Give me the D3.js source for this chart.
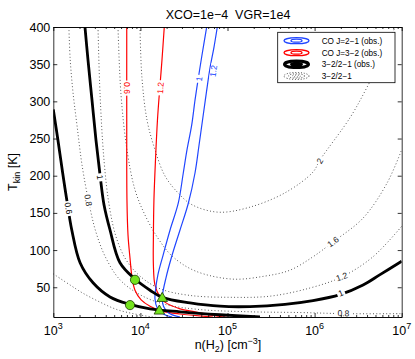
<!DOCTYPE html>
<html>
<head>
<meta charset="utf-8">
<script src="https://cdn.jsdelivr.net/npm/d3@7"></script>
<style>
  body { margin: 0; background: #fff; }
  svg { display: block; font-family: "Liberation Sans", Arial, Helvetica, sans-serif; }
</style>
</head>
<body>
<svg id="chart" width="415" height="359"></svg>
<script>
// contour lines as [n(H2) in cm^-3, Tkin in K]

// observed 3-2/2-1 ratio (thick black)
const obs06 = [[1000,289],[1130,248],[1280,204],[1430,167],[1630,127],[2030,83],[2860,56],[4480,37],[7600,27],[12900,21],[28500,17],[82000,13],[236000,10]];
const obs10 = [[2310,400],[2500,356],[2780,302],[3090,248],[3440,201],[3820,161],[4480,127],[5830,83],[8670,61],[12900,46],[18200,36],[37100,29],[82000,24.5],[181000,24],[457000,27],[959000,32],[1950000,40],[3600000,53],[5640000,67],[1e7,85]];

// CO J=3-2 observed (red)
const co32_06 = [[6970,400],[6970,275],[7010,167],[7210,120],[7600,89],[8020,63],[8670,46],[10200,33],[12900,24.5],[17700,18],[28500,14],[68200,10]];
const co32_12 = [[18800,400],[17700,356],[16800,322],[15700,275],[14900,221],[14300,167],[14100,118],[14100,80],[14700,53],[16800,37],[19100,30],[28500,21],[42400,17],[68200,12],[107000,9.3]];

// CO J=2-1 observed (blue)
const co21_10 = [[57700,400],[50900,362],[46200,331],[42400,302],[38800,268],[34300,235],[31100,204],[27200,163],[21900,127],[18200,93],[15900,67],[14900,46],[14700,34.5],[15500,23],[18200,14.5],[23100,10]];
const co21_12 = [[76400,400],[70000,373],[63000,345],[57400,313],[52700,282],[47100,241],[42400,204],[35500,163],[28500,127],[23100,93],[19700,63],[17900,38],[18400,24.5],[21300,15],[28500,10]];

// model 3-2/2-1 ratio (dotted)
const ratio04 = [[1000,68],[1560,53],[2190,42],[3440,30],[5380,20],[8670,14],[12900,10.5],[19100,8]];
const ratio08 = [[1510,400],[1560,358],[1680,313],[1870,268],[2140,214],[2570,163],[3090,124],[4030,89],[5830,60],[9890,40],[19100,27],[48300,20],[181000,17],[681000,16],[2230000,14.5],[1e7,14.5]];
const ratio12 = [[3260,400],[3440,310],[3820,221],[4370,161],[5250,118],[6840,87],[9890,65],[16800,48],[37100,39],[107000,36.5],[308000,38],[885000,49],[2060000,64],[4680000,91],[1e7,132]];
const ratio16 = [[5530,400],[5980,310],[7010,235],[8670,181],[11300,147],[15900,116],[23100,92],[42400,72],[113000,61],[269000,65],[522000,73],[959000,91],[1630000,111],[3600000,143],[6780000,190],[1e7,235]];
const ratio20 = [[9890,400],[10400,333],[11900,275],[14700,235],[19100,200],[27000,177],[39100,161],[77800,151],[172000,157],[457000,177],[959000,205],[1150000,221],[2550000,278],[4000000,319],[6100000,362],[8380000,400]];

// solutions
const circlePts = [[8670,60],[7600,26]];
const trianglePts = [[17800,35],[16500,18]];

// axes
const xTicks = [1e3,1e4,1e5,1e6,1e7];
const xTickExp = ['3','4','5','6','7'];
const yTicks = [50,100,150,200,250,300,350,400];

const legendLabels = ['CO J=2\u22121 (obs.)','CO J=3\u22122 (obs.)','3\u22122/2\u22121 (obs.)','3\u22122/2\u22121'];

const svg = d3.select('#chart');
const plotL = 53.3, plotR = 401.7, plotT = 27, plotB = 317;

const x = d3.scaleLog().domain([1e3,1e7]).range([plotL,plotR]);
const y = d3.scaleLinear().domain([10,400]).range([plotB,plotT]);

const line = d3.line()
	.x(function(d) {return x(d[0]);})
	.y(function(d) {return y(d[1]);})
	.curve(d3.curveCatmullRom.alpha(0.5));

svg.append('defs').append('clipPath').attr('id','plotclip')
	.append('rect').attr('x',plotL).attr('y',plotT).attr('width',plotR-plotL).attr('height',plotB-plotT);

const plot = svg.append('g').attr('clip-path','url(#plotclip)');

const styles = {
	model: {stroke:'#333', width:0.9, dash:'0.9,2.4'},
	obs: {stroke:'#000', width:2.8, dash:null},
	co32: {stroke:'#ff0000', width:1.2, dash:null},
	co21: {stroke:'#2046ff', width:1.2, dash:null}
};

const curves = [
	{pts: ratio04, kind:'model', text:null, labels:[]},
	{pts: ratio08, kind:'model', text:'0.8', labels:[[2520,167],[2140000,15]]},
	{pts: ratio12, kind:'model', text:'1.2', labels:[[2050000,64]]},
	{pts: ratio16, kind:'model', text:'1.6', labels:[[1630000,111]]},
	{pts: ratio20, kind:'model', text:'2', labels:[[1150000,220]]},
	{pts: co32_06, kind:'co32', text:'0.6', labels:[[6970,318]]},
	{pts: co32_12, kind:'co32', text:'1.2', labels:[[17000,318]]},
	{pts: co21_10, kind:'co21', text:'1', labels:[[47400,330]]},
	{pts: co21_12, kind:'co21', text:'1.2', labels:[[68700,341]]},
	{pts: obs06, kind:'obs', text:'0.6', labels:[[1490,156]]},
	{pts: obs10, kind:'obs', text:'1', labels:[[3440,198],[2000000,42]]}
];

curves.forEach(function(c) {
	const s = styles[c.kind];
	plot.append('path')
		.datum(c.pts)
		.attr('d', line)
		.attr('fill','none')
		.attr('stroke', s.stroke)
		.attr('stroke-width', s.width)
		.attr('stroke-dasharray', s.dash)
		.attr('stroke-linejoin','round');
});

// inline contour labels, turned along the line
function labelAngle(pts, px, py) {
	const p = pts.map(function(d) {return [x(d[0]), y(d[1])];});
	let best = 0, bd = Infinity;
	for (let i = 0; i < p.length - 1; i++) {
		const ax = p[i][0], ay = p[i][1], bx = p[i+1][0], by = p[i+1][1];
		const dx = bx - ax, dy = by - ay;
		let t = ((px-ax)*dx + (py-ay)*dy) / (dx*dx + dy*dy);
		t = Math.max(0, Math.min(1, t));
		const ex = ax + t*dx - px, ey = ay + t*dy - py;
		const dd = ex*ex + ey*ey;
		if (dd < bd) { bd = dd; best = i; }
	}
	let ang = Math.atan2(p[best+1][1]-p[best][1], p[best+1][0]-p[best][0]) * 180 / Math.PI;
	if (ang > 90) ang -= 180;
	if (ang <= -90) ang += 180;
	return ang;
}

curves.forEach(function(c) {
	if (!c.text) return;
	const s = styles[c.kind];
	c.labels.forEach(function(l) {
		const px = x(l[0]), py = y(l[1]);
		const g = plot.append('g')
			.attr('transform', 'translate(' + px + ',' + py + ') rotate(' + labelAngle(c.pts, px, py) + ')');
		const rect = g.append('rect').attr('fill','#fff');
		const t = g.append('text')
			.attr('text-anchor','middle')
			.attr('dy','0.35em')
			.attr('font-size', 8.5)
			.attr('fill', c.kind === 'model' ? '#222' : s.stroke)
			.text(c.text);
		const bb = t.node().getBBox();
		rect.attr('x', bb.x - 1.5).attr('y', -3).attr('width', bb.width + 3).attr('height', 6);
	});
});

// markers
svg.append('g').selectAll('circle')
	.data(circlePts)
	.enter()
	.append('circle')
	.attr('cx', function(d) {return x(d[0]);})
	.attr('cy', function(d) {return y(d[1]);})
	.attr('r', 4.6)
	.attr('fill','#74e21e')
	.attr('stroke','#1a3a00')
	.attr('stroke-width',0.8);

const tri = d3.symbol().type(d3.symbolTriangle).size(48);
svg.append('g').selectAll('path')
	.data(trianglePts)
	.enter()
	.append('path')
	.attr('d', tri)
	.attr('transform', function(d) {return 'translate(' + x(d[0]) + ',' + y(d[1]) + ')';})
	.attr('fill','#74e21e')
	.attr('stroke','#1a3a00')
	.attr('stroke-width',0.8);

// axes, ticks inward on all four sides
const minor = [];
for (let e = 3; e < 7; e++) for (let k = 2; k <= 9; k++) minor.push(k * Math.pow(10, e));

function styleAxis(g) {
	g.selectAll('path,line').attr('stroke','#000').attr('stroke-width',0.8);
	g.selectAll('text').attr('fill','#000');
}

svg.append('g').attr('transform','translate(0,' + plotB + ')')
	.call(d3.axisBottom(x).tickValues(xTicks).tickFormat('').tickSize(-4).tickSizeOuter(0)).call(styleAxis);
svg.append('g').attr('transform','translate(0,' + plotB + ')')
	.call(d3.axisBottom(x).tickValues(minor).tickFormat('').tickSize(-2).tickSizeOuter(0)).call(styleAxis);
svg.append('g').attr('transform','translate(0,' + plotT + ')')
	.call(d3.axisTop(x).tickValues(xTicks).tickFormat('').tickSize(-4).tickSizeOuter(0)).call(styleAxis);
svg.append('g').attr('transform','translate(0,' + plotT + ')')
	.call(d3.axisTop(x).tickValues(minor).tickFormat('').tickSize(-2).tickSizeOuter(0)).call(styleAxis);

svg.append('g').attr('transform','translate(' + plotL + ',0)')
	.call(d3.axisLeft(y).tickValues(yTicks).tickSize(-4).tickSizeOuter(0).tickPadding(3))
	.call(styleAxis)
	.selectAll('text').attr('font-size',12.5).attr('font-family','inherit');
svg.append('g').attr('transform','translate(' + plotR + ',0)')
	.call(d3.axisRight(y).tickValues(yTicks).tickFormat('').tickSize(-4).tickSizeOuter(0))
	.call(styleAxis);

// x tick labels as powers of ten
const xl = svg.append('g').selectAll('text')
	.data(xTicks)
	.enter()
	.append('text')
	.attr('x', function(d) {return x(d);})
	.attr('y', 335)
	.attr('text-anchor','middle')
	.attr('font-size',12.5);
xl.append('tspan').text('10');
xl.append('tspan').attr('dy',-6).attr('font-size',9).text(function(d, i) {return xTickExp[i];});

// titles
svg.append('text').attr('x',228).attr('y',18.5).attr('text-anchor','middle').attr('font-size',12.5)
	.text('XCO=1e\u22124\u00a0\u00a0VGR=1e4');

const xt = svg.append('text').attr('x',228).attr('y',349).attr('text-anchor','middle').attr('font-size',12.5);
xt.append('tspan').text('n(H');
xt.append('tspan').attr('dy',3).attr('font-size',9).text('2');
xt.append('tspan').attr('dy',-3).text(') [cm');
xt.append('tspan').attr('dy',-5).attr('font-size',9).text('\u22123');
xt.append('tspan').attr('dy',5).text(']');

const yt = svg.append('text').attr('transform','translate(16.5,172) rotate(-90)').attr('text-anchor','middle').attr('font-size',12.5);
yt.append('tspan').text('T');
yt.append('tspan').attr('dy',3).attr('font-size',9).text('kin');
yt.append('tspan').attr('dy',-3).text(' [K]');

// legend
const leg = svg.append('g');
leg.append('rect').attr('x',277.7).attr('y',32.3).attr('width',117.3).attr('height',50.4)
	.attr('fill','#fff').attr('stroke','#000').attr('stroke-width',0.8);

const legRows = [40.7, 52.7, 64.3, 76];
const legIcon = [
	{stroke:'#2046ff', w:1.3, dash:null, rings:[[12.5,3],[5.5,1.5]]},
	{stroke:'#ff0000', w:1.3, dash:null, rings:[[12.5,3],[5.5,1.5]]},
	{stroke:'#000', w:3, dash:null, rings:[[12,3.3],[5,1]]},
	{stroke:'#333', w:0.9, dash:'1,1.8', rings:[[12.5,3.5],[8,2.2],[4,1]]}
];
legendLabels.forEach(function(label, i) {
	legIcon[i].rings.forEach(function(r) {
		leg.append('ellipse').attr('cx',296.5).attr('cy',legRows[i]).attr('rx',r[0]).attr('ry',r[1])
			.attr('fill','none').attr('stroke',legIcon[i].stroke).attr('stroke-width',legIcon[i].w)
			.attr('stroke-dasharray',legIcon[i].dash);
	});
	leg.append('text').attr('x',321.7).attr('y',legRows[i] + 3).attr('font-size',8.2).text(label);
});
</script>
</body>
</html>
